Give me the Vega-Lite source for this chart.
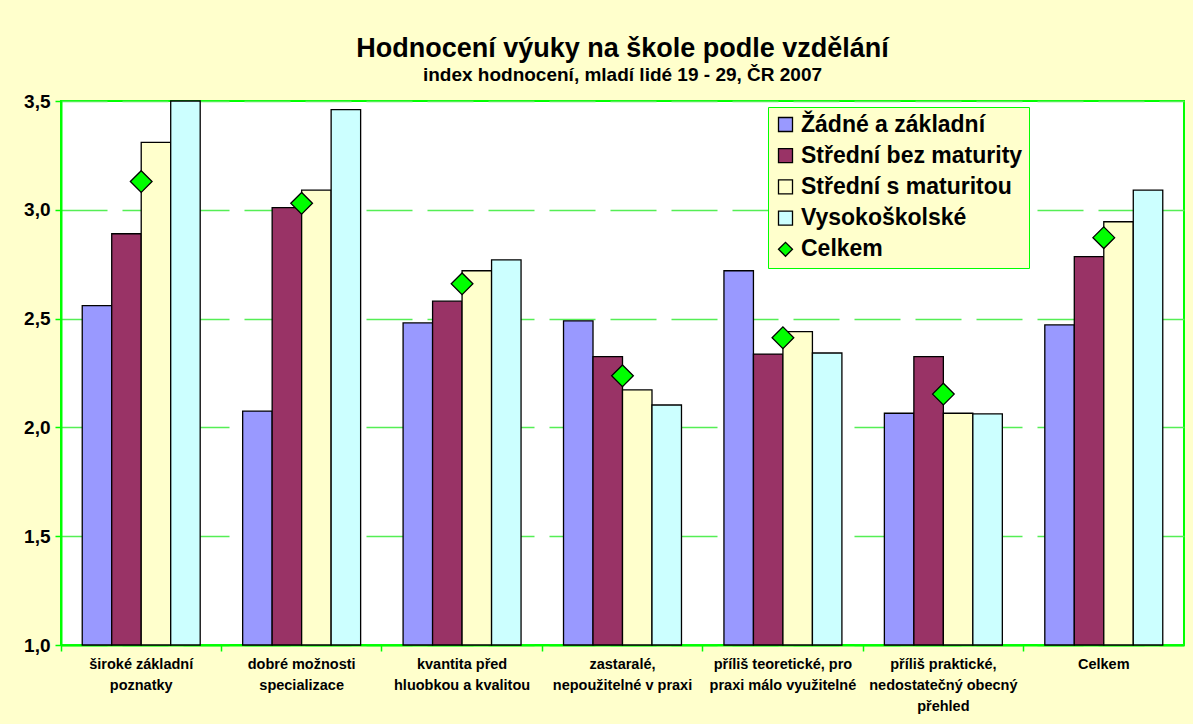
{
  "$schema": "https://vega.github.io/schema/vega-lite/v6.json",
  "width": 1123,
  "height": 544,
  "autosize": "none",
  "padding": {"left": 61, "top": 101, "right": 9, "bottom": 79},
  "background": "#FFFFCC",
  "title": {
    "text": "Hodnocení výuky na škole podle vzdělání",
    "subtitle": "index hodnocení, mladí lidé 19 - 29, ČR 2007",
    "anchor": "middle",
    "frame": "group",
    "font": "Liberation Sans",
    "fontSize": 27,
    "fontWeight": "bold",
    "color": "black",
    "subtitleFont": "Liberation Sans",
    "subtitleFontSize": 19,
    "subtitleFontWeight": "bold",
    "subtitleColor": "black",
    "subtitlePadding": 3,
    "offset": 6
  },
  "config": {
    "locale": {"number": {"decimal": ",", "thousands": " ", "grouping": [3], "currency": ["", " Kč"]}},
    "view": {"fill": "white", "stroke": "#00FF00", "strokeWidth": 2},
    "font": "Liberation Sans"
  },
  "data": {
    "values": [
      {"kategorie": "široké základní\npoznatky", "skupina": "Žádné a základní", "index": 2.56},
      {"kategorie": "široké základní\npoznatky", "skupina": "Střední bez maturity", "index": 2.89},
      {"kategorie": "široké základní\npoznatky", "skupina": "Střední s maturitou", "index": 3.31},
      {"kategorie": "široké základní\npoznatky", "skupina": "Vysokoškolské", "index": 3.50},
      {"kategorie": "široké základní\npoznatky", "skupina": "Celkem", "index": 3.13},
      {"kategorie": "dobré možnosti\nspecializace", "skupina": "Žádné a základní", "index": 2.075},
      {"kategorie": "dobré možnosti\nspecializace", "skupina": "Střední bez maturity", "index": 3.01},
      {"kategorie": "dobré možnosti\nspecializace", "skupina": "Střední s maturitou", "index": 3.09},
      {"kategorie": "dobré možnosti\nspecializace", "skupina": "Vysokoškolské", "index": 3.46},
      {"kategorie": "dobré možnosti\nspecializace", "skupina": "Celkem", "index": 3.03},
      {"kategorie": "kvantita před\nhluobkou a kvalitou", "skupina": "Žádné a základní", "index": 2.48},
      {"kategorie": "kvantita před\nhluobkou a kvalitou", "skupina": "Střední bez maturity", "index": 2.58},
      {"kategorie": "kvantita před\nhluobkou a kvalitou", "skupina": "Střední s maturitou", "index": 2.72},
      {"kategorie": "kvantita před\nhluobkou a kvalitou", "skupina": "Vysokoškolské", "index": 2.77},
      {"kategorie": "kvantita před\nhluobkou a kvalitou", "skupina": "Celkem", "index": 2.66},
      {"kategorie": "zastaralé,\nnepoužitelné v praxi", "skupina": "Žádné a základní", "index": 2.49},
      {"kategorie": "zastaralé,\nnepoužitelné v praxi", "skupina": "Střední bez maturity", "index": 2.325},
      {"kategorie": "zastaralé,\nnepoužitelné v praxi", "skupina": "Střední s maturitou", "index": 2.172},
      {"kategorie": "zastaralé,\nnepoužitelné v praxi", "skupina": "Vysokoškolské", "index": 2.103},
      {"kategorie": "zastaralé,\nnepoužitelné v praxi", "skupina": "Celkem", "index": 2.237},
      {"kategorie": "příliš teoretické, pro\npraxi málo využitelné", "skupina": "Žádné a základní", "index": 2.72},
      {"kategorie": "příliš teoretické, pro\npraxi málo využitelné", "skupina": "Střední bez maturity", "index": 2.337},
      {"kategorie": "příliš teoretické, pro\npraxi málo využitelné", "skupina": "Střední s maturitou", "index": 2.44},
      {"kategorie": "příliš teoretické, pro\npraxi málo využitelné", "skupina": "Vysokoškolské", "index": 2.342},
      {"kategorie": "příliš teoretické, pro\npraxi málo využitelné", "skupina": "Celkem", "index": 2.412},
      {"kategorie": "příliš praktické,\nnedostatečný obecný\npřehled", "skupina": "Žádné a základní", "index": 2.065},
      {"kategorie": "příliš praktické,\nnedostatečný obecný\npřehled", "skupina": "Střední bez maturity", "index": 2.325},
      {"kategorie": "příliš praktické,\nnedostatečný obecný\npřehled", "skupina": "Střední s maturitou", "index": 2.065},
      {"kategorie": "příliš praktické,\nnedostatečný obecný\npřehled", "skupina": "Vysokoškolské", "index": 2.062},
      {"kategorie": "příliš praktické,\nnedostatečný obecný\npřehled", "skupina": "Celkem", "index": 2.153},
      {"kategorie": "Celkem", "skupina": "Žádné a základní", "index": 2.471},
      {"kategorie": "Celkem", "skupina": "Střední bez maturity", "index": 2.785},
      {"kategorie": "Celkem", "skupina": "Střední s maturitou", "index": 2.945},
      {"kategorie": "Celkem", "skupina": "Vysokoškolské", "index": 3.09},
      {"kategorie": "Celkem", "skupina": "Celkem", "index": 2.872}
    ]
  },
  "encoding": {
    "x": {
      "field": "kategorie",
      "type": "nominal",
      "sort": null,
      "scale": {"paddingInner": 0, "paddingOuter": 0},
      "axis": {
        "title": null,
        "labelAngle": 0,
        "labelExpr": "split(datum.label, '\\n')",
        "labelFont": "Liberation Sans",
        "labelFontSize": 14.5,
        "labelFontWeight": "bold",
        "labelColor": "black",
        "labelLineHeight": 21,
        "labelPadding": 6,
        "labelBaseline": "top",
        "bandPosition": 0,
        "tickColor": "#00FF00",
        "tickSize": 6,
        "tickWidth": 1.5,
        "domainColor": "#00FF00",
        "domainWidth": 2,
        "labelLimit": 0
      }
    },
    "y": {
      "field": "index",
      "type": "quantitative",
      "scale": {"domain": [1, 3.5], "nice": false, "zero": false},
      "axis": {
        "title": null,
        "values": [1, 1.5, 2, 2.5, 3, 3.5],
        "format": ".1f",
        "labelFont": "Liberation Sans",
        "labelFontSize": 19,
        "labelFontWeight": "bold",
        "labelColor": "black",
        "labelPadding": 5,
        "tickColor": "#00FF00",
        "tickSize": 6,
        "tickWidth": 1.5,
        "domainColor": "#00FF00",
        "domainWidth": 2,
        "gridColor": "#55EE55",
        "gridDash": [46, 15],
        "gridWidth": 1.3
      }
    }
  },
  "layer": [
    {
      "transform": [{"filter": "datum.skupina !== 'Celkem'"}],
      "mark": {"type": "bar", "stroke": "black", "strokeWidth": 1.3},
      "encoding": {
        "y2": {"datum": 1},
        "xOffset": {
          "field": "skupina",
          "type": "nominal",
          "sort": ["Žádné a základní", "Střední bez maturity", "Střední s maturitou", "Vysokoškolské"],
          "scale": {"paddingInner": 0, "paddingOuter": 0.72}
        },
        "color": {
          "field": "skupina",
          "type": "nominal",
          "scale": {
            "domain": ["Žádné a základní", "Střední bez maturity", "Střední s maturitou", "Vysokoškolské", "Celkem"],
            "range": ["#9999FF", "#993366", "#FFFFCC", "#CCFFFF", "#00FF00"]
          },
          "legend": {
            "title": null,
            "orient": "none",
            "legendX": 707,
            "legendY": 6,
            "fillColor": "#FFFFCC",
            "strokeColor": "#00FF00",
            "padding": 6,
            "labelFont": "Liberation Sans",
            "labelFontSize": 23,
            "labelFontWeight": "bold",
            "labelColor": "black",
            "labelOffset": 4,
            "symbolSize": 196,
            "symbolStrokeColor": "black",
            "symbolStrokeWidth": 1.3,
            "symbolOpacity": 1,
            "rowPadding": 7.2,
            "labelLimit": 0
          }
        }
      }
    },
    {
      "transform": [{"filter": "datum.skupina === 'Celkem'"}],
      "mark": {"type": "point", "filled": true, "stroke": "black", "strokeWidth": 1.3, "opacity": 1, "size": 470},
      "encoding": {
        "color": {"field": "skupina", "type": "nominal"},
        "shape": {
          "field": "skupina",
          "type": "nominal",
          "scale": {
            "domain": ["Žádné a základní", "Střední bez maturity", "Střední s maturitou", "Vysokoškolské", "Celkem"],
            "range": ["square", "square", "square", "square", "diamond"]
          }
        }
      }
    }
  ]
}
